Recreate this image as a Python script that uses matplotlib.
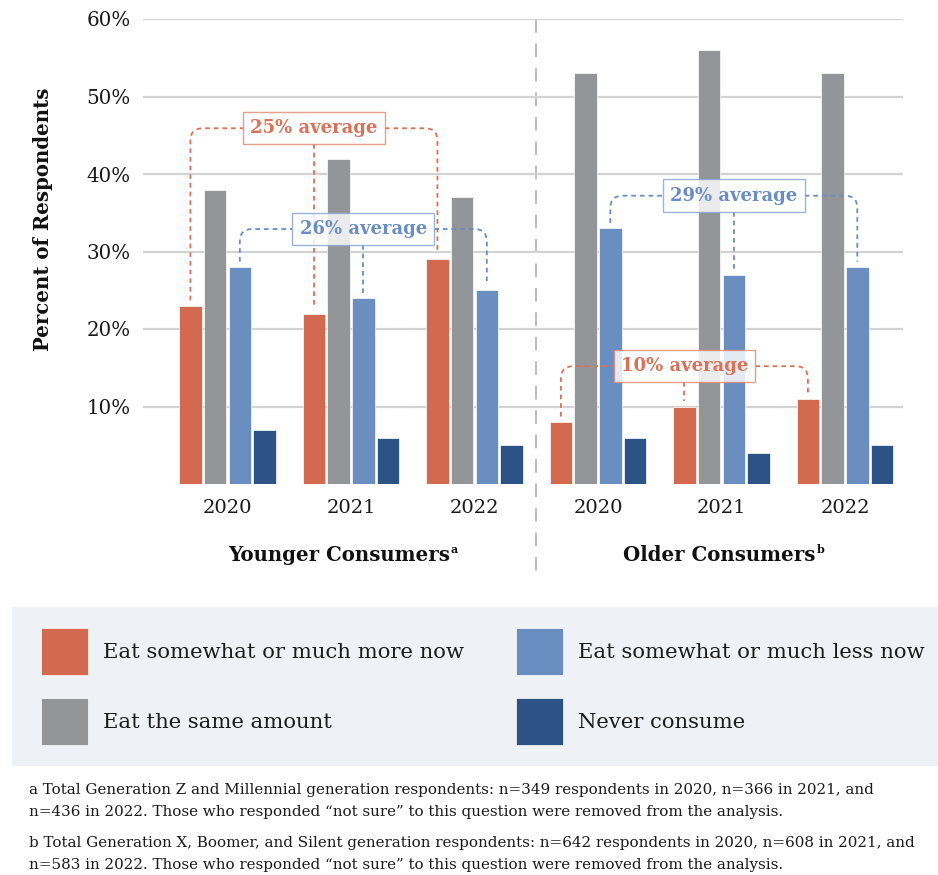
import matplotlib
matplotlib.use("Agg")
import matplotlib.pyplot as plt
import matplotlib.transforms as mtrans
from matplotlib.path import Path
from matplotlib.patches import PathPatch, Rectangle
import numpy as np

plt.rcParams['font.family'] = ['DejaVu Serif']

# ---- data ----
years = ["2020", "2021", "2022", "2020", "2021", "2022"]
groups = ["Younger Consumers", "Older Consumers"]
group_marks = ["a", "b"]
series = ["Eat somewhat or much more now", "Eat the same amount",
          "Eat somewhat or much less now", "Never consume"]
more_now = [23, 22, 29, 8, 10, 11]
same_amount = [38, 42, 37, 53, 56, 53]
less_now = [28, 24, 25, 33, 27, 28]
never = [7, 6, 5, 6, 4, 5]
colors = ["#D36A50", "#939598", "#698EBF", "#2D5386"]
yticks = [10, 20, 30, 40, 50, 60]
ytick_labels = ["10%", "20%", "30%", "40%", "50%", "60%"]

# averages shown by the brackets: (label, series index, group slice, level)
averages = [
    ("25% average", 0, slice(0, 3), 45.9),
    ("26% average", 2, slice(0, 3), 32.9),
    ("29% average", 2, slice(3, 6), 37.2),
    ("10% average", 0, slice(3, 6), 15.2),
]
footnotes = [
    "a Total Generation Z and Millennial generation respondents: n=349 respondents in 2020, n=366 in 2021, and\n"
    "n=436 in 2022. Those who responded \u201cnot sure\u201d to this question were removed from the analysis.",
    "b Total Generation X, Boomer, and Silent generation respondents: n=642 respondents in 2020, n=608 in 2021, and\n"
    "n=583 in 2022. Those who responded \u201cnot sure\u201d to this question were removed from the analysis.",
]

W, H = 938, 875
fig = plt.figure(figsize=(W / 100, H / 100), dpi=100)
fig.patch.set_facecolor("white")

# overlay in pixel units for legend and footnotes
ov = fig.add_axes([0, 0, 1, 1])
ov.set_xlim(0, W)
ov.set_ylim(H, 0)
ov.axis("off")

ax = fig.add_axes([143 / W, (H - 484) / H, 760 / W, 465 / H])
values = [more_now, same_amount, less_now, never]
x = np.arange(len(years))
slot = 0.2
bw = 0.182
for i, (vals, c) in enumerate(zip(values, colors)):
    ax.bar(x + (i - 1.5) * slot, vals, width=bw, color=c,
           edgecolor="white", linewidth=0.5, zorder=3)

ax.set_xlim(-0.684, 5.47)
ax.set_ylim(0, 60)
ax.set_yticks(yticks)
ax.set_yticklabels(ytick_labels, fontsize=14.3, color="#1A1A1A")
ax.set_xticks(x)
ax.set_xticklabels(years, fontsize=14, color="#1A1A1A")
ax.tick_params(axis="both", length=0)
ax.tick_params(axis="x", pad=11)
ax.tick_params(axis="y", pad=9)
ax.grid(axis="y", color="#D3D3D3", linewidth=1.6, zorder=0)
for s in ax.spines.values():
    s.set_visible(False)

# divider between the two consumer groups
ax.plot([2.5, 2.5], [60, -11.7], color="#AAAAAA", lw=1.1,
        dashes=(9, 7), clip_on=False, zorder=1)

# y-axis title
fig.text(43 / W, 1 - 219 / H, "Percent of Respondents", rotation=90,
         ha="center", va="center", fontsize=14.2, fontweight="bold",
         color="#111111")

# group titles with superscript marks
blend = mtrans.blended_transform_factory(ax.transData, fig.transFigure)
title_shift = [-0.1, -0.02]
for gi, (g, m) in enumerate(zip(groups, group_marks)):
    cx = x[gi * 3:(gi + 1) * 3].mean() + title_shift[gi]
    t = ax.text(cx, 1 - 555 / H, g, transform=blend, ha="center",
                va="center", fontsize=14.2, fontweight="bold", color="#111111")
    ax.annotate(m, xy=(1, 0.78), xycoords=t, xytext=(1, 0),
                textcoords="offset points", ha="left", va="center",
                fontsize=8, fontweight="bold", color="#111111")

# average brackets
text_colors = {0: "#D8735A", 2: "#6A8EC4"}
edge_colors = {0: "#DF8A74", 2: "#86A4D0"}
fig.canvas.draw()
renderer = fig.canvas.get_renderer()
gap = 0.7
dx, dy = 0.1, 1.6
for label, si, sl, level in averages:
    xs = x[sl] + (si - 1.5) * slot
    tops = np.array(values[si])[sl]
    col = text_colors[si]
    t = ax.text(xs[1], level, label, ha="center", va="center", fontsize=13,
                fontweight="bold", color=col, zorder=6,
                bbox=dict(boxstyle="square,pad=0.4", fc="white", alpha=0.82,
                          ec=edge_colors[si], lw=1.0))
    fig.canvas.draw()
    bb = t.get_bbox_patch().get_window_extent(renderer)
    (bx0, by0), (bx1, by1) = ax.transData.inverted().transform(
        [[bb.x0, bb.y0], [bb.x1, bb.y1]])
    left = Path([(xs[0], tops[0] + gap), (xs[0], level - dy),
                 (xs[0], level), (xs[0] + dx, level), (bx0, level)],
                [Path.MOVETO, Path.LINETO, Path.CURVE3, Path.CURVE3, Path.LINETO])
    right = Path([(bx1, level), (xs[2] - dx, level), (xs[2], level),
                  (xs[2], level - dy), (xs[2], tops[2] + gap)],
                 [Path.MOVETO, Path.LINETO, Path.CURVE3, Path.CURVE3, Path.LINETO])
    mid = Path([(xs[1], by0), (xs[1], tops[1] + gap)])
    for p in (left, right, mid):
        pp = PathPatch(p, fc="none", ec=col, lw=1.3,
                       linestyle=(0, (2.6, 2.2)), zorder=5, clip_on=False)
        ax.add_patch(pp)

# legend panel
ov.add_patch(Rectangle((12, 607), 926, 159, fc="#EEF1F5", ec="none"))
leg_pos = [(41, 628), (41, 698), (516, 628), (516, 698)]
for (lx, ly), name, c in zip(leg_pos, series, colors):
    ov.add_patch(Rectangle((lx, ly), 47, 47, fc=c, ec="white", lw=0.5))
    ov.text(lx + 62, ly + 25, name, ha="left", va="center", fontsize=15.2,
            color="#1A1A1A")

# footnotes
ov.text(29, 801, footnotes[0], ha="left", va="center", fontsize=10.9,
        color="#1A1A1A", linespacing=1.75)
ov.text(29, 854, footnotes[1], ha="left", va="center", fontsize=10.9,
        color="#1A1A1A", linespacing=1.75)

fig.savefig("out.png", dpi=100, facecolor="white")
